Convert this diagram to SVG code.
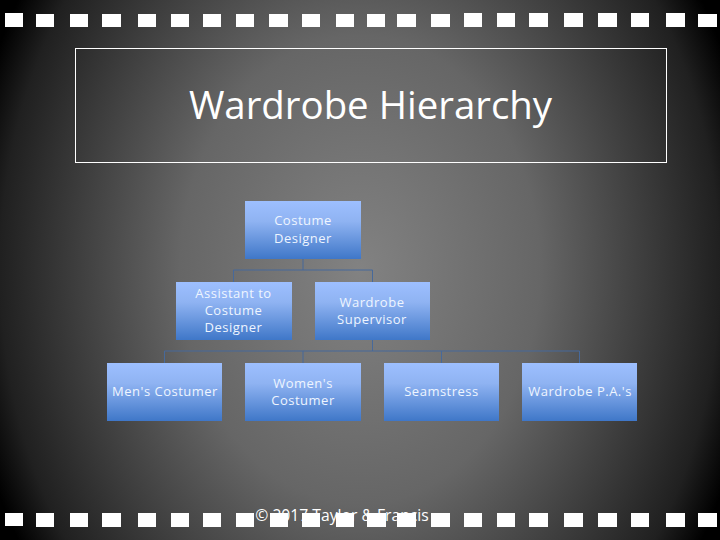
<svg xmlns="http://www.w3.org/2000/svg" width="720" height="540" viewBox="0 0 720 540">
<style>
.t{font-family:"Open Sans","Liberation Sans",sans-serif;fill:#fff}
.n{font-size:13px;letter-spacing:.5px;text-anchor:middle;fill:#eef5ff}
.b{fill:url(#bx)}
.c{fill:none;stroke:#47699a;stroke-width:1}
.s{fill:#fff}
</style>
<defs>
<radialGradient id="bg" gradientUnits="userSpaceOnUse" cx="0" cy="0" r="1" gradientTransform="translate(360 270) scale(400 520)">
<stop offset="0" stop-color="#828282"/><stop offset=".45" stop-color="#666"/><stop offset=".9" stop-color="#202020"/><stop offset="1" stop-color="#000"/>
</radialGradient>
<linearGradient id="bx" x1="0" y1="0" x2="0" y2="1">
<stop offset="0" stop-color="#9dbfff"/><stop offset=".35" stop-color="#8fb3f2"/><stop offset="1" stop-color="#3f77c8"/>
</linearGradient>
</defs>
<rect width="720" height="540" fill="url(#bg)"/>
<g id="film">
<path class="s" d="M5 13h18v14H5zM36 14h18v13H36zM70 14h18v13H70zM102 14h19v13h-19zM138 14h18v13h-18zM171 14h18v13h-18zM203 14h18v13h-18zM236 14h18v13h-18zM269 14h19v13h-19zM302 14h18v13h-18zM336 14h18v13h-18zM367 14h18v13h-18zM397 14h19v13h-19zM431 14h19v13h-19zM464 13h18v14h-18zM497 13h18v14h-18zM529 13h19v14h-19zM564 13h19v14h-19zM598 13h19v14h-19zM631 13h18v14h-18zM666 13h19v14h-19zM698 14h19v13h-19z"/>
</g>
<rect id="title-box" x="75.500" y="48.500" width="591" height="114" fill="none" stroke="#fff" stroke-width="1"/>
<text class="t" x="370.500" y="119" font-size="38.400" text-anchor="middle">Wardrobe Hierarchy</text>
<g id="connectors">
<path class="c" d="M303 259V270M233.500 282V270H372.500V282M372.500 340V351M164.500 363V351H579.500V363M303 351V363M441.500 351V363"/>
</g>
<g id="n1"><rect class="b" x="245" y="201" width="116" height="58"/><text class="t n" x="303" y="225">Costume</text><text class="t n" x="303" y="243">Designer</text></g>
<g id="n2"><rect class="b" x="176" y="282" width="116" height="58"/><text class="t n" x="233.500" y="298">Assistant to</text><text class="t n" x="233.500" y="315">Costume</text><text class="t n" x="233.500" y="332">Designer</text></g>
<g id="n3"><rect class="b" x="315" y="282" width="115" height="58"/><text class="t n" x="372" y="307">Wardrobe</text><text class="t n" x="372" y="324">Supervisor</text></g>
<g id="n4"><rect class="b" x="107" y="363" width="115" height="58"/><text class="t n" x="165" y="396">Men's Costumer</text></g>
<g id="n5"><rect class="b" x="245" y="363" width="116" height="58"/><text class="t n" x="303" y="388">Women's</text><text class="t n" x="303" y="405">Costumer</text></g>
<g id="n6"><rect class="b" x="384" y="363" width="115" height="58"/><text class="t n" x="441.500" y="396">Seamstress</text></g>
<g id="n7"><rect class="b" x="522" y="363" width="115" height="58"/><text class="t n" x="580" y="396">Wardrobe P.A.'s</text></g>
<text class="t" x="342" y="521" font-size="15.700" text-anchor="middle">© 2017 Taylor &amp; Francis</text>
<g id="film-bottom">
<path class="s" d="M5 513h18v13H5zM36 513h18v14H36zM70 513h18v14H70zM102 513h19v14h-19zM138 513h18v14h-18zM171 513h18v14h-18zM203 513h18v14h-18zM236 513h18v14h-18zM270 513h18v14h-18zM302 513h18v14h-18zM336 513h18v14h-18zM367 513h19v14h-19zM397 513h19v14h-19zM431 513h19v14h-19zM464 513h18v14h-18zM497 513h18v14h-18zM529 513h19v14h-19zM564 513h19v14h-19zM598 513h19v14h-19zM631 513h18v14h-18zM666 513h19v14h-19zM698 513h19v14h-19z"/>
</g>
</svg>
